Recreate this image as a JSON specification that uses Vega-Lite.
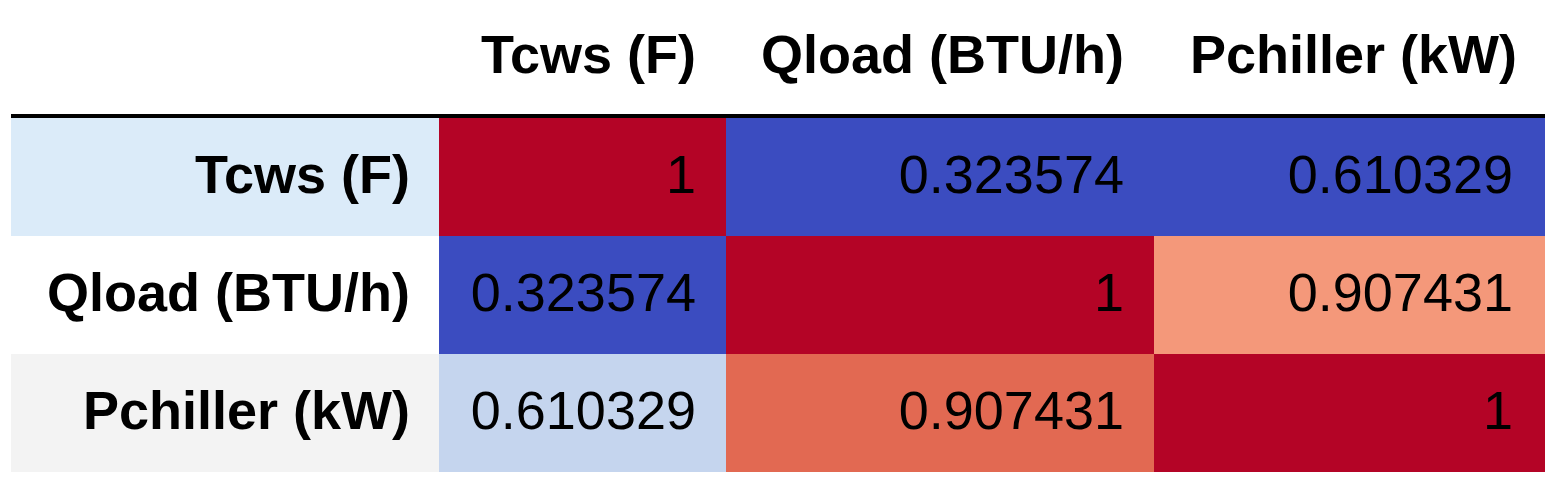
{
  "$schema": "https://vega.github.io/schema/vega-lite/v6.json",
  "background": "white",
  "padding": {"left": 9, "top": 0, "right": 8, "bottom": 12},
  "autosize": {"type": "pad"},
  "spacing": 0,
  "bounds": "flush",
  "config": {
    "view": {"stroke": null},
    "font": "Liberation Sans",
    "text": {"font": "Liberation Sans", "fontSize": 54, "color": "#000000"}
  },
  "datasets": {
    "corr": [
      {"row": "Tcws (F)", "col": "Tcws (F)", "value": 1},
      {"row": "Tcws (F)", "col": "Qload (BTU/h)", "value": 0.323574},
      {"row": "Tcws (F)", "col": "Pchiller (kW)", "value": 0.610329},
      {"row": "Qload (BTU/h)", "col": "Tcws (F)", "value": 0.323574},
      {"row": "Qload (BTU/h)", "col": "Qload (BTU/h)", "value": 1},
      {"row": "Qload (BTU/h)", "col": "Pchiller (kW)", "value": 0.907431},
      {"row": "Pchiller (kW)", "col": "Tcws (F)", "value": 0.610329},
      {"row": "Pchiller (kW)", "col": "Qload (BTU/h)", "value": 0.907431},
      {"row": "Pchiller (kW)", "col": "Pchiller (kW)", "value": 1}
    ],
    "rows": [
      {"row": "Tcws (F)"},
      {"row": "Qload (BTU/h)"},
      {"row": "Pchiller (kW)"}
    ],
    "cols": [
      {"col": "Tcws (F)"},
      {"col": "Qload (BTU/h)"},
      {"col": "Pchiller (kW)"}
    ]
  },
  "resolve": {"scale": {"color": "independent"}},
  "hconcat": [
    {
      "width": 428,
      "height": 472,
      "layer": [
        {
          "data": {"name": "rows"},
          "mark": {"type": "rect"},
          "encoding": {
            "x": {"datum": "index", "type": "nominal", "scale": {"paddingInner": 0, "paddingOuter": 0}, "axis": null},
            "y": {"field": "row", "type": "nominal", "scale": {"domain": ["header", "Tcws (F)", "Qload (BTU/h)", "Pchiller (kW)"], "paddingInner": 0, "paddingOuter": 0}, "axis": null},
            "color": {"field": "row", "type": "nominal", "scale": {"domain": ["Tcws (F)", "Qload (BTU/h)", "Pchiller (kW)"], "range": ["#dbebf9", "#ffffff", "#f3f3f3"]}, "legend": null}
          }
        },
        {
          "data": {"name": "rows"},
          "mark": {"type": "text", "align": "right", "baseline": "middle", "fontWeight": "bold", "dx": -29},
          "encoding": {
            "x": {"datum": "index", "type": "nominal", "bandPosition": 1},
            "y": {"field": "row", "type": "nominal"},
            "text": {"field": "row", "type": "nominal"}
          }
        },
        {
          "data": {"values": [{}]},
          "mark": {"type": "rule", "color": "#000000", "strokeWidth": 4, "yOffset": -2},
          "encoding": {
            "y": {"datum": "Tcws (F)", "type": "nominal", "bandPosition": 0}
          }
        }
      ]
    },
    {
      "width": 287,
      "height": 472,
      "layer": [
        {
          "data": {"name": "corr"},
          "transform": [{"filter": "datum.col === 'Tcws (F)'"}],
          "mark": {"type": "rect"},
          "encoding": {
            "x": {"field": "col", "type": "nominal", "scale": {"paddingInner": 0, "paddingOuter": 0}, "axis": null},
            "y": {"field": "row", "type": "nominal", "scale": {"domain": ["header", "Tcws (F)", "Qload (BTU/h)", "Pchiller (kW)"], "paddingInner": 0, "paddingOuter": 0}, "axis": null},
            "color": {"field": "value", "type": "quantitative", "scale": {"domain": [0.323574, 0.610329, 1], "range": ["#3b4cc0", "#c5d5ee", "#b40426"], "interpolate": "rgb"}, "legend": null}
          }
        },
        {
          "data": {"name": "corr"},
          "transform": [{"filter": "datum.col === 'Tcws (F)'"}],
          "mark": {"type": "text", "align": "right", "baseline": "middle", "dx": -30},
          "encoding": {
            "x": {"field": "col", "type": "nominal", "bandPosition": 1},
            "y": {"field": "row", "type": "nominal"},
            "text": {"field": "value", "type": "quantitative", "format": ".6~g"}
          }
        },
        {
          "data": {"name": "cols"},
          "transform": [{"filter": "datum.col === 'Tcws (F)'"}],
          "mark": {"type": "text", "align": "right", "baseline": "middle", "fontWeight": "bold", "dx": -30, "dy": -2},
          "encoding": {
            "x": {"field": "col", "type": "nominal", "bandPosition": 1},
            "y": {"datum": "header", "type": "nominal"},
            "text": {"field": "col", "type": "nominal"}
          }
        },
        {
          "data": {"values": [{}]},
          "mark": {"type": "rule", "color": "#000000", "strokeWidth": 4, "yOffset": -2},
          "encoding": {
            "y": {"datum": "Tcws (F)", "type": "nominal", "bandPosition": 0}
          }
        }
      ]
    },
    {
      "width": 428,
      "height": 472,
      "layer": [
        {
          "data": {"name": "corr"},
          "transform": [{"filter": "datum.col === 'Qload (BTU/h)'"}],
          "mark": {"type": "rect"},
          "encoding": {
            "x": {"field": "col", "type": "nominal", "scale": {"paddingInner": 0, "paddingOuter": 0}, "axis": null},
            "y": {"field": "row", "type": "nominal", "scale": {"domain": ["header", "Tcws (F)", "Qload (BTU/h)", "Pchiller (kW)"], "paddingInner": 0, "paddingOuter": 0}, "axis": null},
            "color": {"field": "value", "type": "quantitative", "scale": {"domain": [0.323574, 0.907431, 1], "range": ["#3b4cc0", "#e26952", "#b40426"], "interpolate": "rgb"}, "legend": null}
          }
        },
        {
          "data": {"name": "corr"},
          "transform": [{"filter": "datum.col === 'Qload (BTU/h)'"}],
          "mark": {"type": "text", "align": "right", "baseline": "middle", "dx": -30},
          "encoding": {
            "x": {"field": "col", "type": "nominal", "bandPosition": 1},
            "y": {"field": "row", "type": "nominal"},
            "text": {"field": "value", "type": "quantitative", "format": ".6~g"}
          }
        },
        {
          "data": {"name": "cols"},
          "transform": [{"filter": "datum.col === 'Qload (BTU/h)'"}],
          "mark": {"type": "text", "align": "right", "baseline": "middle", "fontWeight": "bold", "dx": -30, "dy": -2},
          "encoding": {
            "x": {"field": "col", "type": "nominal", "bandPosition": 1},
            "y": {"datum": "header", "type": "nominal"},
            "text": {"field": "col", "type": "nominal"}
          }
        },
        {
          "data": {"values": [{}]},
          "mark": {"type": "rule", "color": "#000000", "strokeWidth": 4, "yOffset": -2},
          "encoding": {
            "y": {"datum": "Tcws (F)", "type": "nominal", "bandPosition": 0}
          }
        }
      ]
    },
    {
      "width": 391,
      "height": 472,
      "layer": [
        {
          "data": {"name": "corr"},
          "transform": [{"filter": "datum.col === 'Pchiller (kW)'"}],
          "mark": {"type": "rect"},
          "encoding": {
            "x": {"field": "col", "type": "nominal", "scale": {"paddingInner": 0, "paddingOuter": 0}, "axis": null},
            "y": {"field": "row", "type": "nominal", "scale": {"domain": ["header", "Tcws (F)", "Qload (BTU/h)", "Pchiller (kW)"], "paddingInner": 0, "paddingOuter": 0}, "axis": null},
            "color": {"field": "value", "type": "quantitative", "scale": {"domain": [0.610329, 0.907431, 1], "range": ["#3b4cc0", "#f4987a", "#b40426"], "interpolate": "rgb"}, "legend": null}
          }
        },
        {
          "data": {"name": "corr"},
          "transform": [{"filter": "datum.col === 'Pchiller (kW)'"}],
          "mark": {"type": "text", "align": "right", "baseline": "middle", "dx": -32},
          "encoding": {
            "x": {"field": "col", "type": "nominal", "bandPosition": 1},
            "y": {"field": "row", "type": "nominal"},
            "text": {"field": "value", "type": "quantitative", "format": ".6~g"}
          }
        },
        {
          "data": {"name": "cols"},
          "transform": [{"filter": "datum.col === 'Pchiller (kW)'"}],
          "mark": {"type": "text", "align": "right", "baseline": "middle", "fontWeight": "bold", "dx": -28, "dy": -2},
          "encoding": {
            "x": {"field": "col", "type": "nominal", "bandPosition": 1},
            "y": {"datum": "header", "type": "nominal"},
            "text": {"field": "col", "type": "nominal"}
          }
        },
        {
          "data": {"values": [{}]},
          "mark": {"type": "rule", "color": "#000000", "strokeWidth": 4, "yOffset": -2},
          "encoding": {
            "y": {"datum": "Tcws (F)", "type": "nominal", "bandPosition": 0}
          }
        }
      ]
    }
  ]
}
